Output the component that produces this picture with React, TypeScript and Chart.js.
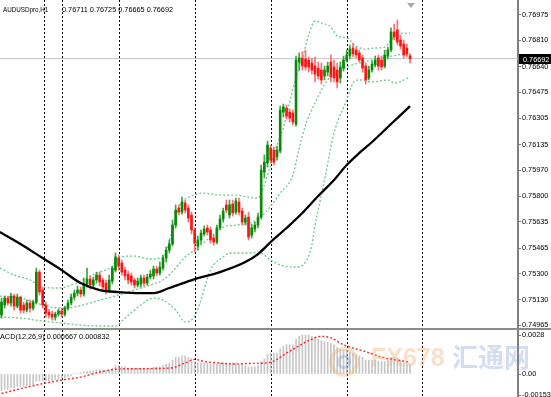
import React, { useEffect, useRef } from "react";
import { Chart, registerables } from "chart.js";

Chart.register(...registerables);

// ---------- DATA ----------
const SYMBOL = "AUDUSDpro,H1";

const OPEN = [
  0.75031, 0.75096, 0.75141, 0.75109, 0.75154, 0.75089, 0.75147, 0.75096, 0.75063, 0.75109,
  0.75076, 0.75115, 0.75309, 0.75193, 0.75096, 0.7505, 0.75037, 0.75018, 0.75037, 0.75057,
  0.75037, 0.75076, 0.75109, 0.75147, 0.75173, 0.75193, 0.75167, 0.75232, 0.75264, 0.75225,
  0.75258, 0.7529, 0.75258, 0.75238, 0.75193, 0.75251, 0.75322, 0.754, 0.75368, 0.75322,
  0.75296, 0.75284, 0.75258, 0.75225, 0.75232, 0.75271, 0.75238, 0.75277, 0.75284, 0.75329,
  0.75303, 0.75335, 0.754, 0.75452, 0.75491, 0.75614, 0.75724, 0.75698, 0.75757, 0.75724,
  0.75679, 0.75582, 0.75478, 0.75517, 0.75556, 0.75595, 0.75582, 0.7553, 0.75504, 0.75595,
  0.75653, 0.75744, 0.75679, 0.7575, 0.75698, 0.75763, 0.75705, 0.75633, 0.75666, 0.75549,
  0.75588, 0.75614, 0.75666, 0.75957, 0.76016, 0.76113, 0.761, 0.76055, 0.76094, 0.76346,
  0.76372, 0.76346, 0.7634, 0.76268, 0.7667, 0.76696, 0.7669, 0.76683, 0.76664, 0.76644,
  0.76631, 0.76618, 0.7658, 0.76605, 0.7667, 0.76638, 0.76618, 0.76567, 0.76631, 0.76683,
  0.76709, 0.76761, 0.76748, 0.76729, 0.76696, 0.76644, 0.76567, 0.76618, 0.76651, 0.76696,
  0.76683, 0.76644, 0.76709, 0.76748, 0.76865, 0.76878, 0.76813, 0.76787, 0.76761, 0.76711,
];
const HIGH = [
  0.75141, 0.75154, 0.75154, 0.75173, 0.75167, 0.75167, 0.75154, 0.75115, 0.75128, 0.75128,
  0.75128, 0.75335, 0.75322, 0.75212, 0.75115, 0.7507, 0.75057, 0.7505, 0.7507, 0.75076,
  0.75089, 0.75128, 0.75167, 0.75193, 0.75219, 0.75212, 0.75271, 0.75335, 0.75284, 0.75277,
  0.75309, 0.75309, 0.75271, 0.75258, 0.7529, 0.75348, 0.75433, 0.7542, 0.75387, 0.75342,
  0.75316, 0.75303, 0.75271, 0.75271, 0.7529, 0.7529, 0.75296, 0.75322, 0.75348, 0.75348,
  0.75374, 0.7542, 0.75471, 0.75517, 0.75646, 0.75744, 0.75744, 0.75795, 0.75776, 0.75744,
  0.75698, 0.75595, 0.75543, 0.75582, 0.75608, 0.75614, 0.75601, 0.75549, 0.75614, 0.75679,
  0.75724, 0.75776, 0.75776, 0.75776, 0.75789, 0.75789, 0.75724, 0.75679, 0.75698, 0.7562,
  0.75633, 0.75692, 0.76003, 0.76068, 0.76158, 0.76132, 0.76119, 0.76126, 0.76385, 0.76398,
  0.76392, 0.76366, 0.76359, 0.76709, 0.76729, 0.76735, 0.76748, 0.76703, 0.76696, 0.76703,
  0.7667, 0.76664, 0.76644, 0.7667, 0.76716, 0.76683, 0.76664, 0.7667, 0.76709, 0.76748,
  0.7678, 0.76793, 0.76767, 0.76748, 0.76716, 0.76664, 0.76644, 0.76677, 0.76709, 0.76716,
  0.76709, 0.76748, 0.76767, 0.76891, 0.76916, 0.76942, 0.76845, 0.76813, 0.76787, 0.76725,
];
const LOW = [
  0.75011, 0.75076, 0.75096, 0.75089, 0.75063, 0.75076, 0.75044, 0.75044, 0.7505, 0.7505,
  0.75063, 0.75102, 0.7516, 0.75076, 0.75018, 0.75011, 0.74998, 0.74998, 0.75024, 0.75018,
  0.75024, 0.75063, 0.75096, 0.75128, 0.75154, 0.75147, 0.75154, 0.75212, 0.75199, 0.75206,
  0.75238, 0.75219, 0.7518, 0.75167, 0.7518, 0.75232, 0.75309, 0.75322, 0.7529, 0.75258,
  0.75232, 0.75225, 0.75206, 0.75212, 0.75212, 0.75219, 0.75225, 0.75264, 0.75264, 0.75284,
  0.7529, 0.75322, 0.75374, 0.75433, 0.75478, 0.75595, 0.75679, 0.75685, 0.75692, 0.75633,
  0.75556, 0.75439, 0.75452, 0.75491, 0.75543, 0.75549, 0.75497, 0.75484, 0.75491, 0.75582,
  0.75633, 0.75692, 0.75659, 0.75672, 0.75685, 0.75679, 0.75614, 0.75614, 0.75517, 0.7553,
  0.75569, 0.75595, 0.75653, 0.75919, 0.7599, 0.76016, 0.76003, 0.76035, 0.76081, 0.76314,
  0.76301, 0.76281, 0.76262, 0.76255, 0.76618, 0.76618, 0.76618, 0.76605, 0.76592, 0.76541,
  0.7656, 0.76528, 0.76554, 0.7658, 0.76541, 0.76541, 0.76502, 0.76534, 0.76612, 0.7667,
  0.7669, 0.76703, 0.76696, 0.7667, 0.76605, 0.76528, 0.76554, 0.76605, 0.76638, 0.76618,
  0.76618, 0.76631, 0.7669, 0.76735, 0.76813, 0.7678, 0.76754, 0.76696, 0.76703, 0.76665,
];
const CLOSE = [
  0.75115, 0.75141, 0.75109, 0.75154, 0.75089, 0.75147, 0.75063, 0.75063, 0.75109, 0.75076,
  0.75115, 0.75309, 0.7518, 0.75096, 0.75044, 0.75031, 0.75018, 0.75037, 0.75057, 0.75037,
  0.75076, 0.75109, 0.75147, 0.75173, 0.75193, 0.75167, 0.75232, 0.75264, 0.75225, 0.75258,
  0.7529, 0.75245, 0.75212, 0.75193, 0.75258, 0.75335, 0.75407, 0.75348, 0.75309, 0.75284,
  0.75258, 0.75245, 0.75225, 0.75251, 0.75271, 0.75238, 0.75277, 0.75296, 0.75329, 0.75303,
  0.75342, 0.754, 0.75452, 0.75491, 0.75614, 0.75711, 0.75698, 0.75763, 0.75711, 0.75659,
  0.75582, 0.75497, 0.75517, 0.75562, 0.75588, 0.75569, 0.75517, 0.75504, 0.75595, 0.75653,
  0.75705, 0.75711, 0.75744, 0.75692, 0.7577, 0.75698, 0.75633, 0.75659, 0.75536, 0.75595,
  0.75614, 0.75666, 0.7597, 0.76022, 0.76132, 0.76035, 0.76022, 0.761, 0.76359, 0.76379,
  0.7632, 0.76307, 0.76281, 0.76683, 0.76696, 0.76644, 0.76638, 0.76638, 0.76618, 0.76592,
  0.7658, 0.76554, 0.76618, 0.76644, 0.76573, 0.76567, 0.76541, 0.76638, 0.76683, 0.76716,
  0.76754, 0.76722, 0.76716, 0.76683, 0.76631, 0.76554, 0.76618, 0.76657, 0.76683, 0.76644,
  0.76638, 0.76716, 0.76748, 0.76865, 0.76832, 0.768, 0.76774, 0.76716, 0.76722, 0.76692,
];

// moving average (black): [bar index, price]
const MA_LINE: [number, number][] = [
  [-0.5, 0.75569], [6, 0.75491], [13, 0.754], [19, 0.75322], [25, 0.75238], [31, 0.75193],
  [37, 0.7518], [44, 0.75173], [48, 0.75173], [53, 0.75206], [61, 0.75264], [69, 0.75309],
  [77, 0.75374], [81, 0.75426], [85, 0.75504], [90, 0.75595], [95, 0.75692], [100, 0.75802],
  [105, 0.75906], [109, 0.76003], [113, 0.76081], [117, 0.76152], [122, 0.76249], [129, 0.76385],
];
const BB_UPPER: [number, number][] = [
  [-0.5, 0.75335], [4, 0.7529], [9, 0.75258], [13, 0.75212], [18, 0.75206], [23, 0.75232],
  [28, 0.75284], [31, 0.75309], [35, 0.75348], [37, 0.75407], [42, 0.75413], [47, 0.75394],
  [51, 0.75407], [54, 0.75582], [56, 0.75731], [60, 0.75802], [64, 0.75821], [69, 0.75808],
  [74, 0.75808], [80, 0.75789], [81, 0.75789], [83, 0.75873], [85, 0.76003], [87, 0.76132],
  [89, 0.76243], [91, 0.76411], [93, 0.76567], [95, 0.76696], [97, 0.76845], [99, 0.76936],
  [101, 0.76923], [104, 0.76897], [106, 0.76839], [109, 0.76826], [112, 0.76774], [115, 0.76754],
  [118, 0.76761], [121, 0.76767], [123, 0.76813], [125, 0.76858], [129, 0.76858],
];
const BB_MIDDLE: [number, number][] = [
  [-0.5, 0.75154], [6, 0.75141], [13, 0.75096], [19, 0.75076], [23, 0.75083], [28, 0.75109],
  [31, 0.75128], [37, 0.7516], [42, 0.75193], [47, 0.75225], [51, 0.75258], [55, 0.75335],
  [58, 0.75407], [61, 0.75452], [66, 0.75536], [70, 0.75601], [74, 0.75614], [80, 0.7564],
  [84, 0.75711], [88, 0.75821], [92, 0.75938], [94, 0.76113], [96, 0.76262], [99, 0.76405],
  [103, 0.76554], [109, 0.76638], [113, 0.76664], [120, 0.76696], [125, 0.76716], [129, 0.76729],
];
const BB_LOWER: [number, number][] = [
  [-0.5, 0.75018], [6, 0.75011], [13, 0.74992], [19, 0.74979], [25, 0.74966], [31, 0.7496],
  [36, 0.7496], [39, 0.75011], [44, 0.75096], [48, 0.75141], [51, 0.75128], [55, 0.75063],
  [58, 0.74985], [61, 0.75024], [63, 0.75128], [66, 0.75322], [70, 0.75407], [72, 0.75433],
  [79, 0.75433], [81, 0.75439], [85, 0.75387], [88, 0.75355], [93, 0.75342], [96, 0.75374],
  [98, 0.75484], [99, 0.75614], [100, 0.75711], [102, 0.75906], [105, 0.7621], [109, 0.76424],
  [111, 0.76534], [113, 0.76554], [117, 0.76541], [122, 0.76554], [124, 0.76534], [129, 0.76573],
];

// MACD histogram (one per bar) and signal line
const MACD = [
  -0.0012, -0.0011, -0.0011, -0.001, -0.001, -0.0009, -0.0009, -0.0009, -0.0008, -0.0008,
  -0.0008, -0.0005, -0.0005, -0.0005, -0.0005, -0.0005, -0.0005, -0.0004, -0.0004, -0.0003,
  -0.0003, -0.0002, -0.0001, 0.0, 0.00005, 0.0001, 0.00015, 0.0002, 0.0002, 0.00025,
  0.0003, 0.0003, 0.0003, 0.00025, 0.0003, 0.0004, 0.0006, 0.0006, 0.0005, 0.0005,
  0.0004, 0.0004, 0.0004, 0.0004, 0.0004, 0.0004, 0.0004, 0.0004, 0.0005, 0.0005,
  0.0005, 0.0006, 0.0007, 0.0008, 0.001, 0.0012, 0.0012, 0.0013, 0.0013, 0.0012,
  0.0011, 0.0009, 0.0008, 0.0008, 0.0008, 0.0008, 0.0007, 0.0007, 0.0007, 0.0008,
  0.0008, 0.0008, 0.0008, 0.0008, 0.0008, 0.0007, 0.0007, 0.0006, 0.0005, 0.0005,
  0.0005, 0.0006, 0.0009, 0.0011, 0.0014, 0.0015, 0.0015, 0.0015, 0.0018, 0.002,
  0.0021, 0.0021, 0.0021, 0.0025, 0.0027, 0.0028, 0.0028, 0.0028, 0.0027, 0.0026,
  0.0025, 0.0024, 0.0023, 0.0023, 0.0022, 0.0021, 0.0019, 0.0018, 0.0017, 0.0017,
  0.0016, 0.0015, 0.0014, 0.0013, 0.0012, 0.001, 0.001, 0.001, 0.001, 0.0009,
  0.0009, 0.0009, 0.001, 0.0012, 0.0012, 0.0011, 0.001, 0.0008, 0.0007, 0.000667,
];
const SIGNAL: [number, number][] = [
  [0, -0.0014], [7, -0.001], [14, -0.00065], [20, -0.0004], [25, -0.00022], [31, 0.00014],
  [37, 0.00036], [44, 0.00038], [50, 0.0004], [54, 0.00045], [58, 0.0008], [61, 0.00105],
  [64, 0.0009], [68, 0.0008], [73, 0.00072], [79, 0.00076], [84, 0.0008], [87, 0.00105],
  [90, 0.0015], [93, 0.0019], [97, 0.0024], [101, 0.0027], [104, 0.0026], [108, 0.0021],
  [112, 0.0018], [115, 0.0016], [121, 0.00115], [125, 0.001], [129, 0.000832],
];

// period separators (bar positions) and axis ticks
const SEPARATORS = [13.4, 19.1, 37.1, 61.1, 85.1, 109.1, 132.8];
const PRICE_TICKS = [
  0.76975, 0.7681, 0.7664, 0.76475, 0.76305, 0.76135, 0.7597, 0.758, 0.75635, 0.75465, 0.753,
  0.7513, 0.74965,
];
const MACD_TICKS = [0.0028, 0, -0.001533];
const MACD_TICK_LABELS = ["0.0028", "0.00", "-0.001533"];

// visible ranges
const X_MIN = -0.47;
const X_MAX = 163.09;
const Y_MIN = 0.74947;
const Y_MAX = 0.77072;
const M_MIN = -0.001651;
const M_MAX = 0.003159;

// ---------- STYLE ----------
const FONT = '"Liberation Sans", Arial, sans-serif';
const UP_BODY = "#078a07";
const UP_WICK = "#3aa53a";
const DN_BODY = "#ff1414";
const DN_WICK = "#ff6e6e";
const BAND = "#6cc98d";
const AXIS = "#7f7f7f";

const separatorPlugin = {
  id: "periodSeparators",
  beforeDatasetsDraw(chart: any) {
    const { ctx, chartArea, scales } = chart;
    ctx.save();
    ctx.strokeStyle = "#000";
    ctx.lineWidth = 1;
    ctx.setLineDash([2, 2]);
    for (const s of SEPARATORS) {
      const x = Math.round(scales.x.getPixelForValue(s)) + 0.5;
      ctx.beginPath();
      ctx.moveTo(x, chartArea.top);
      ctx.lineTo(x, chartArea.bottom);
      ctx.stroke();
    }
    ctx.restore();
  },
};

const LAST = CLOSE[CLOSE.length - 1];

const lastPricePlugin = {
  id: "lastPriceLabel",
  afterDraw(chart: any) {
    const { ctx, chartArea, scales } = chart;
    const y = Math.round(scales.y.getPixelForValue(LAST));
    ctx.save();
    ctx.fillStyle = "#000";
    ctx.fillRect(chartArea.right + 1, y - 5, 40, 10);
    ctx.fillStyle = "#fff";
    ctx.font = `7.3px ${FONT}`;
    ctx.textBaseline = "middle";
    ctx.fillText(LAST.toFixed(5), chartArea.right + 5, y + 0.5);
    ctx.restore();
  },
};

function yAxis(min: number, max: number, ticks: number[], label: (v: number, i: number) => string) {
  return {
    position: "right" as const,
    min,
    max,
    afterBuildTicks: (s: any) => {
      s.ticks = ticks.map((v) => ({ value: v }));
    },
    afterFit: (s: any) => {
      s.width = 33;
      s.paddingTop = 0;
      s.paddingBottom = 0;
    },
    ticks: {
      autoSkip: false,
      padding: 1,
      color: "#000",
      font: { family: FONT, size: 7.3 },
      callback: (v: any, i: number) => label(Number(v), i),
    },
    grid: { drawOnChartArea: false, drawTicks: true, tickLength: 3, color: AXIS },
    border: { display: true, color: AXIS, width: 2 },
  };
}

const xAxis = { type: "linear" as const, display: false, min: X_MIN, max: X_MAX, offset: false };

export default function App() {
  const mainRef = useRef<HTMLCanvasElement>(null);
  const macdRef = useRef<HTMLCanvasElement>(null);

  useEffect(() => {
    const up = OPEN.map((o, i) => CLOSE[i] >= o);
    const main = new Chart(mainRef.current as HTMLCanvasElement, {
      type: "bar",
      data: {
        datasets: [
          {
            type: "line",
            data: MA_LINE.map(([x, y]) => ({ x, y })),
            borderColor: "#000",
            borderWidth: 2.3,
            pointRadius: 0,
            cubicInterpolationMode: "monotone",
            order: 0,
          } as any,
          {
            type: "bar",
            data: OPEN.map((o, i) => ({ x: i, y: [o, CLOSE[i]] })),
            backgroundColor: up.map((u) => (u ? UP_BODY : DN_BODY)),
            barThickness: 2,
            minBarLength: 1,
            grouped: false,
            borderWidth: 0,
            order: 1,
          } as any,
          {
            type: "bar",
            data: LOW.map((l, i) => ({ x: i, y: [l, HIGH[i]] })),
            backgroundColor: up.map((u) => (u ? UP_WICK : DN_WICK)),
            barThickness: 1,
            grouped: false,
            borderWidth: 0,
            order: 2,
          } as any,
          ...[BB_UPPER, BB_MIDDLE, BB_LOWER].map(
            (band) =>
              ({
                type: "line",
                data: band.map(([x, y]) => ({ x, y })),
                borderColor: BAND,
                borderWidth: 1.3,
                borderDash: [2, 2],
                pointRadius: 0,
                cubicInterpolationMode: "monotone",
                order: 3,
              }) as any
          ),
          {
            type: "line",
            data: [
              { x: X_MIN, y: LAST },
              { x: X_MAX, y: LAST },
            ],
            borderColor: "#c4c4c4",
            borderWidth: 1,
            pointRadius: 0,
            order: 6,
          } as any,
        ],
      },
      options: {
        responsive: false,
        animation: false,
        devicePixelRatio: 1,
        layout: { padding: 0 },
        plugins: { legend: { display: false }, tooltip: { enabled: false } },
        scales: {
          x: xAxis,
          y: yAxis(Y_MIN, Y_MAX, PRICE_TICKS, (v) => v.toFixed(5)),
        } as any,
      },
      plugins: [separatorPlugin, lastPricePlugin],
    });

    const macd = new Chart(macdRef.current as HTMLCanvasElement, {
      type: "bar",
      data: {
        datasets: [
          {
            type: "line",
            data: SIGNAL.map(([x, y]) => ({ x, y })),
            borderColor: "#ff2a2a",
            borderWidth: 1.4,
            borderDash: [2, 2],
            pointRadius: 0,
            cubicInterpolationMode: "monotone",
            order: 0,
          } as any,
          {
            type: "bar",
            data: MACD.map((v, i) => ({ x: i, y: v })),
            backgroundColor: "#c6c6c6",
            barThickness: 1,
            grouped: false,
            borderWidth: 0,
            order: 1,
          } as any,
        ],
      },
      options: {
        responsive: false,
        animation: false,
        devicePixelRatio: 1,
        layout: { padding: 0 },
        plugins: { legend: { display: false }, tooltip: { enabled: false } },
        scales: {
          x: xAxis,
          y: yAxis(M_MIN, M_MAX, MACD_TICKS, (_v, i) => MACD_TICK_LABELS[i]),
        } as any,
      },
      plugins: [separatorPlugin],
    });

    return () => {
      main.destroy();
      macd.destroy();
    };
  }, []);

  const n = OPEN.length - 1;
  const ohlc = [OPEN[n], HIGH[n], LOW[n], CLOSE[n]].map((v) => v.toFixed(5)).join(" ");
  const macdText = `ACD(12,26,9) ${MACD[n].toFixed(6)} ${SIGNAL[SIGNAL.length - 1][1].toFixed(6)}`;

  const txt: React.CSSProperties = {
    position: "absolute",
    fontFamily: FONT,
    fontSize: 7.3,
    lineHeight: "8px",
    color: "#000",
    whiteSpace: "nowrap",
  };

  return (
    <div
      style={{
        position: "fixed",
        left: 0,
        top: 0,
        width: 551,
        height: 397,
        background: "#fff",
        overflow: "hidden",
      }}
    >
      <canvas ref={mainRef} width={551} height={328} style={{ position: "absolute", left: 0, top: 0 }} />
      <div style={{ position: "absolute", left: 0, top: 328, width: 551, height: 2, background: "#8a8a8a" }} />
      <canvas ref={macdRef} width={551} height={67} style={{ position: "absolute", left: 0, top: 330 }} />

      <div style={{ ...txt, left: 3, top: 6, transform: "scaleX(0.86)", transformOrigin: "left" }}>{SYMBOL}</div>
      <div style={{ ...txt, left: 62, top: 6 }}>{ohlc}</div>
      <div style={{ ...txt, left: 0, top: 333 }}>{macdText}</div>

      <div
        style={{
          position: "absolute",
          left: 407,
          top: 3,
          width: 0,
          height: 0,
          borderLeft: "4px solid transparent",
          borderRight: "4px solid transparent",
          borderTop: "5px solid #a8a8a8",
        }}
      />

      {/* watermark */}
      <div
        style={{
          position: "absolute",
          left: 329,
          top: 347,
          width: 22,
          height: 22,
          borderRadius: "50%",
          border: "4px solid rgba(240,170,110,0.35)",
        }}
      />
      <div
        style={{
          position: "absolute",
          left: 337,
          top: 355,
          width: 8,
          height: 8,
          borderRadius: "50%",
          border: "3px solid rgba(120,150,210,0.35)",
        }}
      />
      <div
        style={{
          position: "absolute",
          left: 371,
          top: 342,
          fontFamily: FONT,
          fontWeight: 700,
          fontSize: 25,
          lineHeight: "30px",
          color: "rgba(245,175,115,0.4)",
        }}
      >
        FX678
      </div>
      <div
        style={{
          position: "absolute",
          left: 452,
          top: 341,
          fontFamily: '"Noto Sans CJK SC", sans-serif',
          fontWeight: 700,
          fontSize: 26,
          lineHeight: "30px",
          color: "rgba(130,160,215,0.35)",
        }}
      >
        汇通网
      </div>
    </div>
  );
}
